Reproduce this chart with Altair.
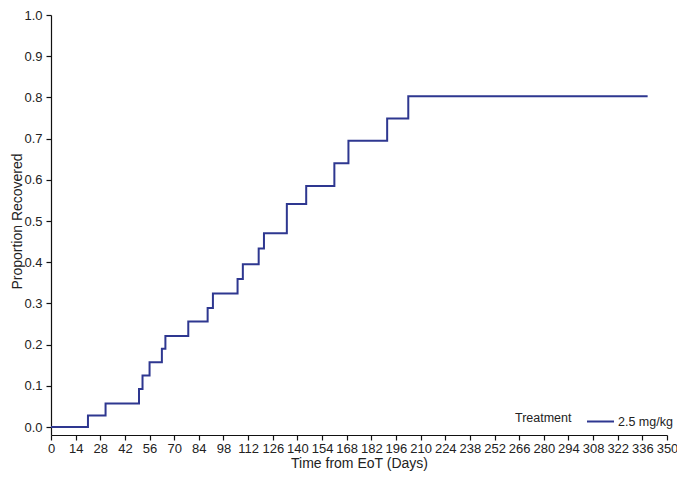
import altair as alt
import pandas as pd

days = [0, 21, 31, 50, 52, 56, 63, 65, 78, 89, 92, 106, 109, 118, 121, 134, 145, 161, 169, 191, 203, 339]
proportion = [0.0, 0.028, 0.057, 0.092, 0.125, 0.157, 0.19, 0.221, 0.256, 0.289, 0.324, 0.359, 0.395,
              0.433, 0.47, 0.541, 0.585, 0.64, 0.695, 0.749, 0.803, 0.803]
treatment = ["2.5 mg/kg"] * len(days)

x_ticks = list(range(0, 351, 14))
y_ticks = [round(i / 10, 1) for i in range(11)]

df = pd.DataFrame({"day": days, "prop": proportion, "Treatment": treatment})

FONT = "Liberation Sans"

chart = alt.Chart(df).mark_line(interpolate="step-after", strokeWidth=2).encode(
    x=alt.X("day:Q", title="Time from EoT (Days)",
            scale=alt.Scale(domain=[0, 350], nice=False, zero=False),
            axis=alt.Axis(values=x_ticks, grid=False, tickSize=5, labelPadding=2,
                          titlePadding=1, labelFlush=False, labelOverlap=False)),
    y=alt.Y("prop:Q", title="Proportion Recovered",
            scale=alt.Scale(domain=[-0.0194, 1.0], nice=False, zero=False),
            axis=alt.Axis(values=y_ticks, format=".1f", grid=False, tickSize=5, labelPadding=4,
                          titleX=-27, titleY=206, titleAngle=-90, titleBaseline="bottom")),
    color=alt.Color("Treatment:N",
                    scale=alt.Scale(domain=["2.5 mg/kg"], range=["#2E3790"]),
                    legend=alt.Legend(orient="none", legendX=464, legendY=392,
                                      direction="horizontal", titleOrient="left",
                                      titleAnchor="middle", titleBaseline="middle",
                                      symbolType="stroke", symbolSize=729,
                                      symbolStrokeWidth=2, titlePadding=14,
                                      labelOffset=3, padding=0)),
).properties(
    width=616, height=420,
    autosize=alt.AutoSizeParams(type="none"),
    padding={"left": 43, "top": 7, "right": 10, "bottom": 36},
).configure_view(stroke=None).configure_axis(
    labelFont=FONT, titleFont=FONT, labelFontSize=13, titleFontSize=14,
    labelColor="#222", titleColor="#222", titleFontWeight="normal",
    domainColor="#111", tickColor="#111", domainWidth=1.2, tickWidth=1.2,
).configure_legend(
    labelFont=FONT, titleFont=FONT, labelFontSize=12.5, titleFontSize=12.5,
    labelColor="#222", titleColor="#222", titleFontWeight="normal",
)

chart.save("out.html", embed_options={"renderer": "svg", "actions": False})
